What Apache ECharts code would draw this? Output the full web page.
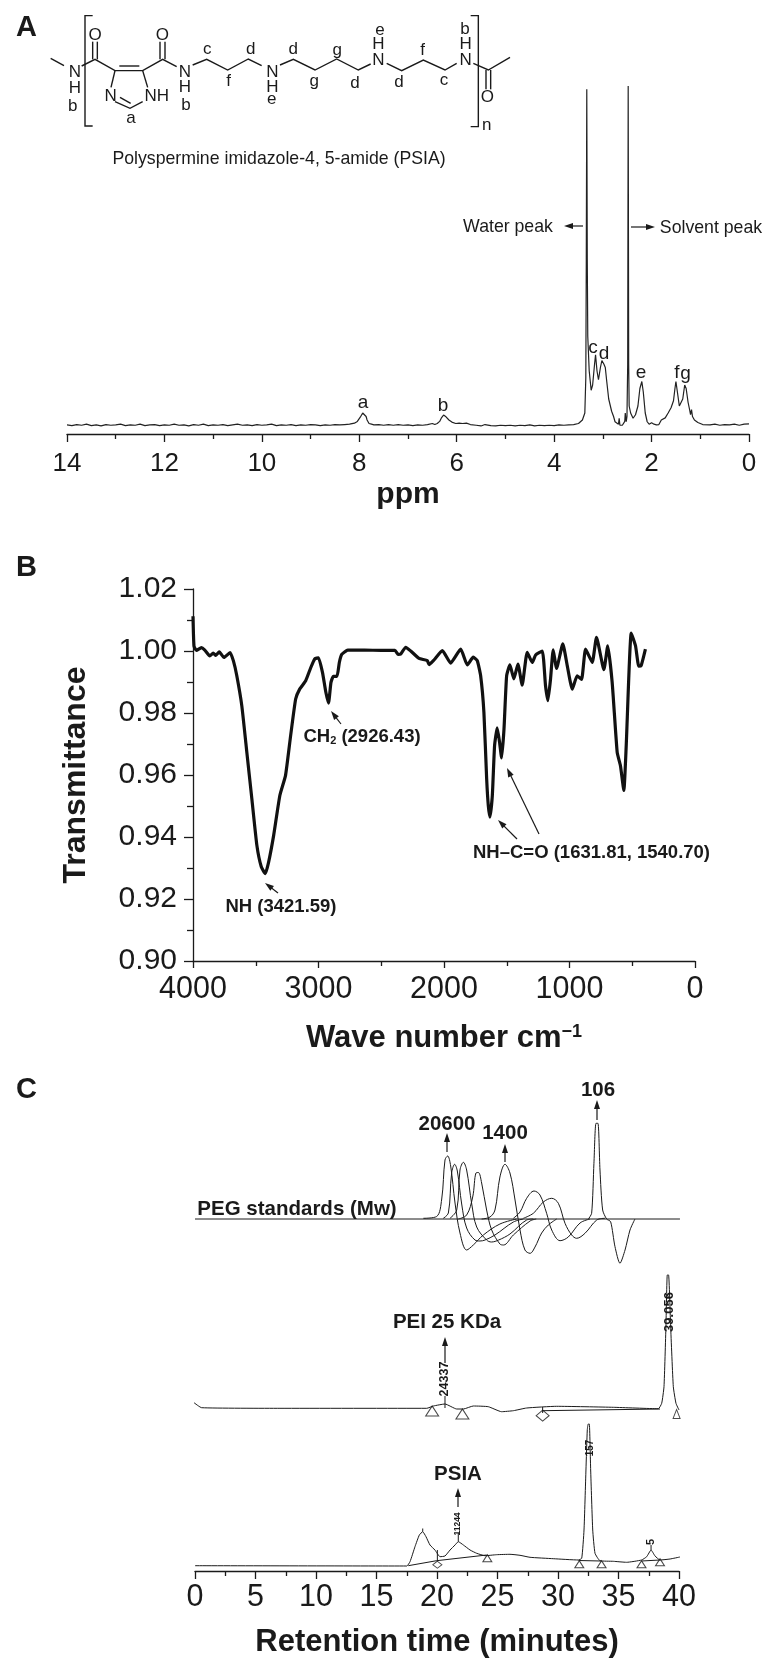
<!DOCTYPE html>
<html>
<head>
<meta charset="utf-8">
<style>html,body{margin:0;padding:0;background:#fff}#c{width:778px;height:1673px}</style>
<script src="https://cdn.jsdelivr.net/npm/echarts@6/dist/echarts.min.js"></script>
</head>
<body>
<div id="c"></div>
<script>
// ---------- Panel A: 1H-NMR spectrum [ppm, intensity] ----------
const nmrSpectrum = [[14,2.6],[13.9,2.4],[13.8,2.7],[13.7,2.5],[13.6,2.8],[13.5,2.4],[13.4,2.6],[13.3,2.3],[13.2,2.7],[13.1,2.5],[13,2.6],[12.9,2.8],[12.8,2.4],[12.7,2.6],[12.6,2.5],[12.5,2.8],[12.4,2.4],[12.3,2.6],[12.2,2.7],[12.1,2.4],[12,2.6],[11.9,2.5],[11.8,2.8],[11.7,2.5],[11.6,2.6],[11.5,2.3],[11.4,2.7],[11.3,2.5],[11.2,2.8],[11.1,2.4],[11,2.6],[10.9,2.5],[10.8,2.7],[10.7,2.4],[10.6,2.6],[10.5,2.8],[10.4,2.5],[10.3,2.6],[10.2,2.4],[10.1,2.7],[10,2.5],[9.9,2.6],[9.8,2.8],[9.7,2.4],[9.6,2.6],[9.5,2.5],[9.4,2.7],[9.3,2.4],[9.2,2.6],[9.1,2.5],[9,2.7],[8.9,2.6],[8.8,2.4],[8.7,2.6],[8.6,2.5],[8.5,2.7],[8.4,2.6],[8.3,2.7],[8.2,2.8],[8.1,3.1],[8.04,3.6],[7.98,4.8],[7.93,6],[7.89,6.3],[7.86,5],[7.84,4],[7.8,3],[7.75,2.8],[7.7,2.6],[7.6,2.7],[7.5,2.5],[7.4,2.7],[7.3,2.5],[7.2,2.7],[7.1,2.5],[7,2.6],[6.9,2.4],[6.8,2.6],[6.7,2.5],[6.6,2.7],[6.5,3],[6.45,2.7],[6.4,3],[6.35,3.6],[6.31,4.7],[6.27,5.4],[6.22,4.9],[6.16,4],[6.1,3.4],[6.02,3],[5.95,3.1],[5.88,3],[5.8,3.1],[5.72,2.7],[5.6,2.5],[5.5,2.3],[5.42,2.7],[5.3,2.4],[5.2,2.3],[5.1,2.5],[5,2.4],[4.9,2.5],[4.8,2.3],[4.7,2.5],[4.6,2.4],[4.5,2.6],[4.4,2.3],[4.3,2.5],[4.2,2.4],[4.1,2.5],[4,2.4],[3.9,2.6],[3.8,2.5],[3.7,2.6],[3.6,2.7],[3.5,3],[3.42,4],[3.37,6],[3.35,16],[3.34,50],[3.33,98.5],[3.32,50],[3.31,28],[3.28,18],[3.24,12.5],[3.21,14],[3.17,20],[3.15,22.6],[3.12,18],[3.09,15.5],[3.05,19],[3.02,21],[2.98,20],[2.95,19],[2.92,15],[2.88,10],[2.82,6.5],[2.78,5],[2.75,3.5],[2.72,3],[2.68,2.8],[2.665,4.5],[2.65,2.5],[2.6,2.5],[2.57,2.8],[2.55,3.6],[2.54,6],[2.52,3.5],[2.505,5],[2.49,20],[2.48,99.4],[2.47,20],[2.46,8],[2.43,6],[2.38,4.5],[2.33,5.5],[2.28,8],[2.24,13],[2.2,15],[2.17,12],[2.13,6],[2.09,3.5],[2.05,2.8],[2,3.2],[1.95,2.8],[1.9,2.6],[1.85,2.7],[1.8,4],[1.72,4.6],[1.66,6],[1.6,7.5],[1.55,9.5],[1.52,13],[1.5,15],[1.47,12],[1.43,8],[1.4,7.7],[1.36,10],[1.32,14],[1.29,13],[1.25,9],[1.22,7],[1.2,5.5],[1.18,7],[1.16,5],[1.12,4],[1.05,3.3],[0.95,2.7],[0.8,2.6],[0.7,2.8],[0.6,2.5],[0.5,2.7],[0.4,2.6],[0.3,2.8],[0.2,2.5],[0.1,2.8],[0,2.9]];

// ---------- Panel B: FTIR spectrum [wavenumber, transmittance] ----------
const ftirSpectrum = [[4000,1.0112],[3992,1.0016],[3973,1.0002],[3933,1.0011],[3906,1.0003],[3866,0.9984],[3839,0.9993],[3818,0.9986],[3791,0.9997],[3753,0.9979],[3705,0.9995],[3678,0.9968],[3651,0.992],[3611,0.9823],[3571,0.9673],[3531,0.9523],[3491,0.9373],[3456,0.9304],[3424,0.9282],[3397,0.932],[3357,0.9406],[3308,0.9534],[3263,0.9598],[3222,0.9727],[3182,0.9845],[3150,0.9877],[3102,0.9904],[3062,0.9946],[3029,0.9975],[3000,0.9978],[2968,0.993],[2941,0.9866],[2920,0.9832],[2901,0.9898],[2882,0.9918],[2853,0.9918],[2834,0.9963],[2815,0.9989],[2767,1.0003],[2633,1.0003],[2500,1.0002],[2391,1.0002],[2365,0.9989],[2345,0.999],[2305,1.0012],[2265,1],[2199,0.9976],[2133,0.9969],[2119,0.9956],[2080,0.9971],[2013,1.0001],[1947,0.9961],[1867,1.0006],[1814,0.9955],[1767,0.998],[1735,0.9969],[1708,0.992],[1682,0.9802],[1660,0.9587],[1647,0.9501],[1634,0.9464],[1615,0.9533],[1597,0.9695],[1576,0.9752],[1557,0.9705],[1541,0.9655],[1522,0.9748],[1501,0.992],[1475,0.9955],[1443,0.991],[1411,0.9958],[1377,0.989],[1337,0.9996],[1297,0.9963],[1270,0.9987],[1217,1],[1191,0.9888],[1172,0.984],[1151,0.991],[1130,1.0004],[1103,0.9944],[1053,1.0023],[1018,0.9953],[978,0.9877],[939,0.992],[904,0.9908],[872,1.0006],[819,0.9963],[785,1.0044],[726,0.994],[695,1.0017],[660,0.9899],[620,0.9673],[594,0.963],[567,0.955],[548,0.9695],[508,1.0058],[474,1.0017],[448,0.9951],[429,0.9953],[395,1.0006]];

// ---------- Panel C: chromatograms [minutes, response] ----------
const pegBaseline = [[0,352],[40.08,352]];
const peg20600 = [[18.87,352.7],[19.97,354.5],[20.39,372],[20.66,411],[20.88,415],[21.13,405],[21.49,368],[21.9,338],[22.45,321],[23,326],[23.83,336],[25.2,347],[26.58,352]];
const pegB = [[20.52,352.7],[20.94,358],[21.21,398],[21.46,406.7],[21.68,400],[22.04,367],[22.45,343],[23.14,331],[23.55,330],[23.97,331],[24.79,336],[26.31,349],[27.13,352]];
const pegC = [[21.07,352.7],[21.63,361],[21.9,401],[22.18,408.7],[22.45,401],[22.87,367],[23.28,344],[24.1,331],[24.5,329],[25.1,331],[26.03,337],[27.41,351],[27.96,352]];
const pegD = [[21.76,352],[22.45,356],[22.95,374],[23.22,398],[23.42,398.5],[23.69,388],[24.1,361],[24.52,341],[25.2,327],[25.5,326],[26.31,336],[27.69,350],[28.2,352]];
const peg1400 = [[23.69,352],[24.38,354],[24.79,361],[25.2,394],[25.62,406.7],[26.03,398],[26.45,371],[26.86,341],[27.27,321],[27.69,317.7],[28.1,324],[28.65,338],[29.2,346],[29.89,352]];
const pegF = [[26.31,352.7],[26.86,359],[27.41,372.7],[28.02,380],[28.51,376],[29.06,357.7],[29.48,341],[30.17,330.3],[30.85,334],[31.82,348],[32.64,352]];
const pegG = [[27.13,352.7],[27.96,357.7],[28.79,369],[29.48,372.7],[30.03,367.7],[30.58,347.7],[31.13,336],[31.54,332.7],[32.23,337.7],[33.2,351],[33.88,352.7]];
const peg106 = [[32.51,352],[32.78,357.7],[32.97,407.7],[33.14,447.7],[33.3,447.7],[33.47,401],[33.69,361],[34.02,352],[34.35,349.3],[34.71,324.3],[35.12,307.7],[35.54,321],[35.95,341],[36.36,352]];

const peiTrace = [[-0.08,168.3],[0.55,163.3],[7.02,162.7],[19.15,162.7],[19.7,165],[20.66,167],[21.63,162],[22.18,162],[23,165],[24.24,164.3],[25.34,159.3],[26.31,160.3],[27.41,163],[29.89,164.7],[34.57,163.7],[38.29,162.3],[38.57,167.7],[38.76,184.3],[38.92,244.3],[39.03,296],[39.14,296],[39.31,244.3],[39.53,184.3],[39.75,167.7],[40,161]];
const peiBaselines = [[28.73,160.3],[38.43,162]];
const peiPeakTicks = [[20.66,163],[20.66,175],['-','-'],[28.73,158],[28.73,164]];
const peiTriangles = [[19.6,160],[22.1,157]];
const peiEndTriangle = [[39.8,157]];
const peiDiamonds = [[28.73,155.3]];

const psiaTrace = [[0,5.3],[17.5,5],[17.77,9.3],[18.18,24.3],[18.54,36],[18.82,39.3],[19.09,34.3],[19.42,26],[19.83,21],[20.25,14.3],[20.66,15],[21.08,21],[21.49,26],[21.76,29.3],[22.18,26],[22.73,21],[23.28,17.7],[23.97,15.3],[24.93,16.3],[26.03,16.7],[26.86,15.7],[27.69,13.7],[29.61,12.3],[31.68,11],[31.96,12.7],[32.15,41],[32.31,101],[32.42,141],[32.5,147],[32.59,147],[32.7,101],[32.87,41],[33.06,17.7],[33.47,10.3],[34.57,9.7],[35.67,8.7],[36.91,11],[37.33,14.3],[37.69,21],[38.02,15],[38.43,11],[39.26,12],[40.08,14]];
const psiaBaselines = [[17.63,5.3],[19.97,10.3],[24.1,16],['-','-'],[31.7,10.5],[33.55,10],['-','-'],[36.9,10],[38.43,11]];
const psiaPeakTicks = [[18.82,39.3],[18.82,42.5],['-','-'],[20.03,10],[20.03,21],['-','-'],[21.76,29.3],[21.76,38],['-','-'],[37.69,21],[37.69,26]];
const psiaTriangles = [[24.16,12.7],[31.76,6.7],[33.6,6.7],[36.9,6.7],[38.43,8.7]];
const psiaDiamonds = [[20.03,6.3]];

// ---------- Tick values ----------
const nmrTickStep = 2, nmrMax = 14;
const ftirXTickStep = 1000, ftirXMax = 4000;
const ftirYMin = 0.9, ftirYMax = 1.02, ftirYTickStep = 0.02;
const rtTickStep = 5, rtMax = 40;

const FF = '"Liberation Sans", Arial, sans-serif';
const INK = '#1a1a1a';

// ---------- Annotation helpers ----------
const G = [];
function txt(text, x, y, size, opt) {
  opt = opt || {};
  G.push({type:'text', x, y:y+1, rotation: opt.rot || 0, z:50, silent:true, style:{
    text, x:0, y:0, fontSize:size, fontFamily:FF, fontWeight: opt.bold ? 'bold' : 'normal',
    fill: INK, align: opt.align || 'center', verticalAlign:'middle', rich: opt.rich
  }});
}
function line(x1,y1,x2,y2,w){
  G.push({type:'line', z:40, silent:true, shape:{x1,y1,x2,y2}, style:{stroke:INK, lineWidth:w||1.2}});
}
function poly(pts,w){
  G.push({type:'polyline', z:40, silent:true, shape:{points:pts}, style:{stroke:INK, lineWidth:w||1.4, fill:null}});
}
function arrow(x1,y1,x2,y2,h,w){
  h = h || 8; w = w || 3;
  const a = Math.atan2(y2-y1,x2-x1), c = Math.cos(a), s = Math.sin(a);
  line(x1,y1,x2-c*h*0.6,y2-s*h*0.6,1.2);
  G.push({type:'polygon', z:40, silent:true, shape:{points:[[x2,y2],[x2-c*h-s*w,y2-s*h+c*w],[x2-c*h+s*w,y2-s*h-c*w]]}, style:{fill:INK}});
}

// Panel letters
txt('A',26.5,27,29,{bold:true});
txt('B',26.5,567,29,{bold:true});
txt('C',26.5,1089,29,{bold:true});

// Structure (drawn in the 3x zoom frame, scaled by 1/3)
const Z = p => p.map(q => [q[0]/3, q[1]/3]);
[
  [[152,175],[192,197]],
  [[245,198],[285,178],[345,212],[428,212],[488,178],[530,200]],
  [[358,198],[418,198]],
  [[278,178],[278,125]],[[292,178],[292,125]],
  [[480,178],[480,125]],[[495,178],[495,125]],
  [[345,212],[333,262]],[[428,212],[443,262]],
  [[345,305],[390,325],[428,305]],[[360,292],[392,310]],
  [[578,195],[620,178],[683,210],[745,177],[785,197]],
  [[840,195],[880,178],[945,210],[1010,177],[1075,210],[1112,192]],
  [[1160,190],[1205,212],[1270,180],[1335,210],[1370,190]],
  [[1420,190],[1465,210],[1530,172]],
  [[1458,210],[1458,268]],[[1472,210],[1472,268]],
  [[278,47],[255,47],[255,378],[278,378]],
  [[1412,47],[1435,47],[1435,380],[1412,380]]
].forEach(p => poly(Z(p)));
[['O',285,103],['N',225,215],['H',225,262],['b',218,315],['N',332,285],['NH',470,285],['a',393,352],
 ['O',487,103],['N',555,213],['H',555,258],['b',558,312],['c',622,145],['d',752,145],['f',686,240],
 ['N',817,213],['H',817,258],['e',815,295],['d',880,145],['g',1012,147],['g',943,240],['d',1065,247],
 ['N',1135,178],['H',1135,130],['e',1140,87],['f',1268,147],['d',1197,245],['c',1332,237],
 ['N',1397,178],['H',1397,130],['b',1395,85],['O',1462,288],['n',1460,372]
].forEach(a => txt(a[0], a[1]/3, a[2]/3, 17));
txt('Polyspermine imidazole-4, 5-amide (PSIA)',279,158,17.7);

// NMR annotations
txt('Water peak',508,226,17.7); arrow(583,226,564,226,9,3);
txt('Solvent peak',711,227,17.7); arrow(631,227,655,227,9,3);
[['a',363,402],['b',443,405],['c',593,347],['d',604,353],['e',641,372],['f',677,372],['g',685.5,373]]
  .forEach(a => txt(a[0],a[1],a[2],19));

// FTIR annotations
txt('NH (3421.59)',281,906,18.5,{bold:true}); arrow(278,893,265,883,9,3);
txt('CH{s|2} (2926.43)',362,736,18.5,{bold:true, rich:{s:{fontSize:11,fontWeight:'bold',fontFamily:FF,fill:INK,padding:[8,0,0,0]}}}); arrow(341,724,331,711,9,3);
txt('NH–C=O (1631.81, 1540.70)',591.5,852,18.5,{bold:true}); arrow(517,839,498,820,9,3); arrow(539,834,507,768,9,3);

// GPC annotations
txt('20600',447,1123,20.5,{bold:true}); arrow(447,1152,447,1133,9,3);
txt('1400',505,1132,20.5,{bold:true}); arrow(505,1162,505,1144,9,3);
txt('106',598,1089,20.5,{bold:true}); arrow(597,1120,597,1100,9,3);
txt('PEG standards (Mw)',297,1208,20.5,{bold:true});
txt('PEI 25 KDa',447,1321,20.5,{bold:true}); arrow(445,1363,445,1337,9,3);
txt('24337',445,1378,12.5,{bold:true, rot:Math.PI/2});
txt('39.056',669,1311,13,{bold:true, rot:Math.PI/2});
txt('PSIA',458,1473,20.5,{bold:true}); arrow(458,1507,458,1488,9,3);
txt('11244',458,1523,8.5,{bold:true, rot:Math.PI/2});
txt('157',590,1447,10,{bold:true, rot:Math.PI/2});
txt('5',651,1541,11,{bold:true, rot:Math.PI/2});

// ---------- Chart ----------
const axisBase = {
  type:'value', nameLocation:'middle',
  axisLine:{show:true, onZero:false, lineStyle:{color:INK, width:1.3}},
  axisTick:{show:true, inside:false, lineStyle:{color:INK, width:1.3}},
  minorTick:{show:true, splitNumber:2, lineStyle:{color:INK, width:1.3}},
  splitLine:{show:false}, minorSplitLine:{show:false},
  axisLabel:{color:INK, fontFamily:FF, hideOverlap:false, showMinLabel:true, showMaxLabel:true, formatter:v => String(v)},
  nameTextStyle:{color:INK, fontFamily:FF, fontWeight:'bold'}
};
function mergeAxis(o){
  return Object.assign({}, axisBase, o, {
    axisTick:Object.assign({}, axisBase.axisTick, o.axisTick),
    minorTick:Object.assign({}, axisBase.minorTick, o.minorTick),
    axisLabel:Object.assign({}, axisBase.axisLabel, o.axisLabel),
    nameTextStyle:Object.assign({}, axisBase.nameTextStyle, o.nameTextStyle)
  });
}
function hiddenY(gridIndex,max){ return {type:'value', gridIndex, min:0, max, show:false, splitLine:{show:false}}; }

function ln(name,data,xi,w,color,smooth){
  return {type:'line', name, data, xAxisIndex:xi, yAxisIndex:xi, showSymbol:false, symbol:'none',
    smooth: smooth || false, clip:false, silent:true, animation:false, connectNulls:false,
    lineStyle:{color:color||INK, width:w||1}};
}
function marks(name,data,symbol,size){
  return {type:'scatter', name, data, xAxisIndex:2, yAxisIndex:2, symbol, symbolSize:size, clip:false, silent:true, animation:false,
    itemStyle:{color:'rgba(255,255,255,0)', borderColor:INK, borderWidth:1}};
}

const option = {
  backgroundColor:'#fff', animation:false,
  grid:[
    {left:67, width:682, top:84, height:350},
    {left:193, width:502, top:589, height:372},
    {left:195, width:484, top:1060, height:511}
  ],
  xAxis:[
    mergeAxis({gridIndex:0, min:0, max:nmrMax, interval:nmrTickStep, inverse:true, name:'ppm', nameGap:46,
      axisTick:{length:8}, minorTick:{length:5}, axisLabel:{fontSize:26, margin:17}, nameTextStyle:{fontSize:30}}),
    mergeAxis({gridIndex:1, min:0, max:ftirXMax, interval:ftirXTickStep, inverse:true,
      name:'Wave number cm{sup|−1}', nameGap:62,
      axisTick:{length:7}, minorTick:{length:5}, axisLabel:{fontSize:30.5, margin:13},
      nameTextStyle:{fontSize:31, rich:{sup:{fontSize:18, fontWeight:'bold', fontFamily:FF, color:INK, padding:[0,0,12,0]}}}}),
    mergeAxis({gridIndex:2, min:0, max:rtMax, interval:rtTickStep, name:'Retention time (minutes)', nameGap:56,
      axisTick:{length:8}, minorTick:{length:5}, axisLabel:{fontSize:30.5, margin:11}, nameTextStyle:{fontSize:31}})
  ],
  yAxis:[
    hiddenY(0,100),
    mergeAxis({gridIndex:1, min:ftirYMin, max:ftirYMax, interval:ftirYTickStep, name:'Transmittance', nameGap:101, nameRotate:90,
      axisTick:{length:9}, minorTick:{length:6},
      axisLabel:{fontSize:30, margin:16, formatter:v => v.toFixed(2)}, nameTextStyle:{fontSize:32}}),
    hiddenY(2,511)
  ],
  series:[
    ln('1H NMR',nmrSpectrum,0,1.2,'#222222'),
    ln('FTIR',ftirSpectrum,1,3.2,'#111111',0.15),
    ln('PEG baseline',pegBaseline,2,1),
    ln('PEG 20600',peg20600,2,1,INK,0.35),
    ln('PEG b',pegB,2,1,INK,0.35),
    ln('PEG c',pegC,2,1,INK,0.35),
    ln('PEG d',pegD,2,1,INK,0.35),
    ln('PEG 1400',peg1400,2,1,INK,0.35),
    ln('PEG f',pegF,2,1,INK,0.35),
    ln('PEG g',pegG,2,1,INK,0.35),
    ln('PEG 106',peg106,2,1,INK,0.25),
    ln('PEI 25 KDa',peiTrace,2,1,INK,0.15),
    ln('PEI baseline',peiBaselines,2,1),
    ln('PEI ticks',peiPeakTicks,2,1),
    marks('PEI triangles',peiTriangles,'triangle',[13,10]),
    marks('PEI end triangle',peiEndTriangle,'triangle',[7,9]),
    marks('PEI diamonds',peiDiamonds,'diamond',[13,11]),
    ln('PSIA',psiaTrace,2,1,INK,0.15),
    ln('PSIA baselines',psiaBaselines,2,1),
    ln('PSIA ticks',psiaPeakTicks,2,1),
    marks('PSIA triangles',psiaTriangles,'triangle',[9,7]),
    marks('PSIA diamonds',psiaDiamonds,'diamond',[9,7])
  ],
  graphic:{elements:G}
};
const chart = echarts.init(document.getElementById('c'), null, {renderer:'canvas'});
chart.setOption(option);
</script>
</body>
</html>
